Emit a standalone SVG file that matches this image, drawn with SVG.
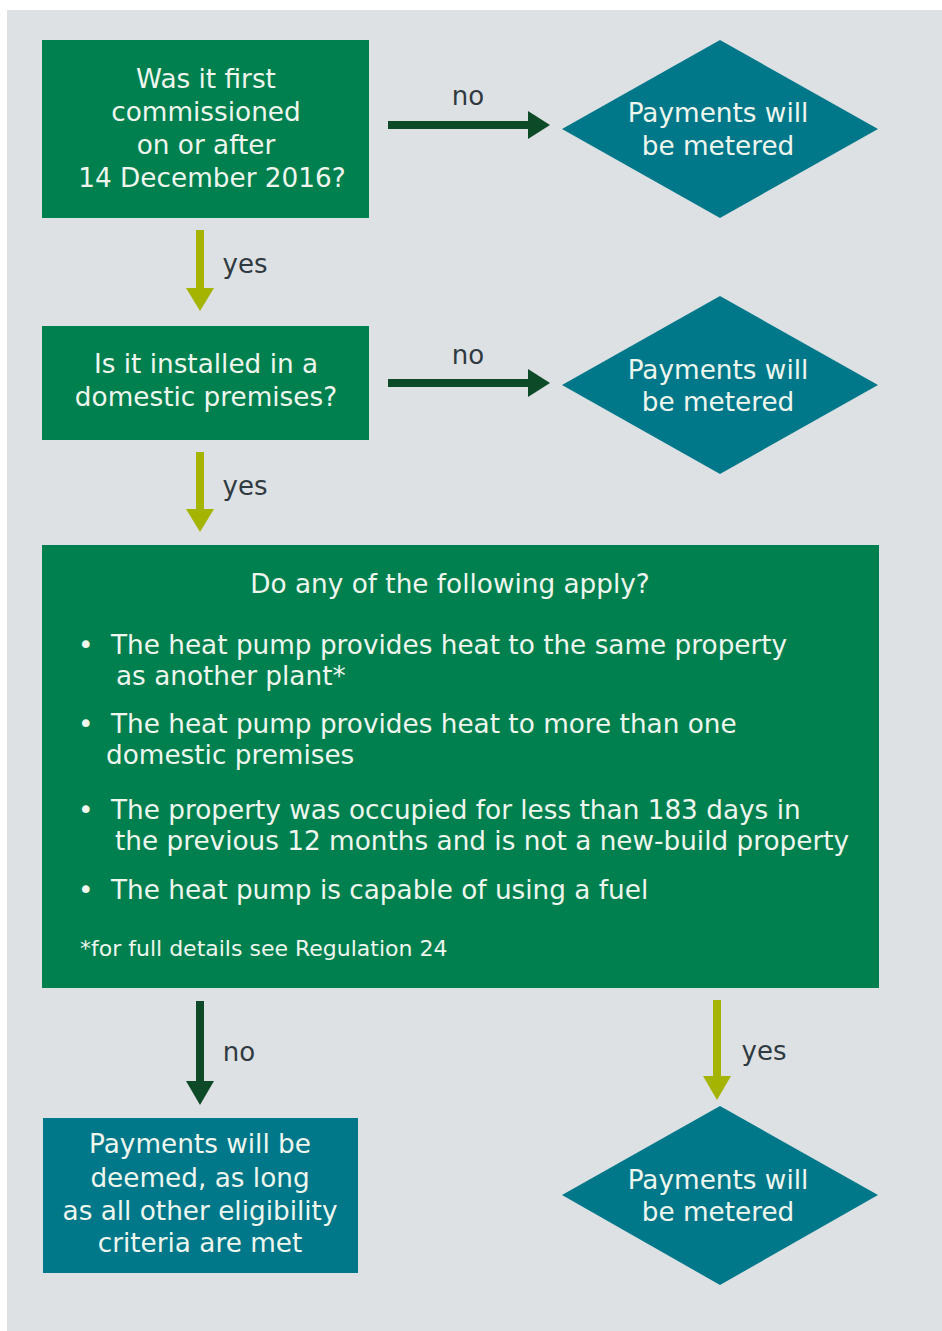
<svg xmlns="http://www.w3.org/2000/svg" width="942" height="1331" viewBox="0 0 942 1331">
<style>
.q{fill:#00804f}
.t{fill:#00788a}
.w{font-family:"DejaVu Sans","Liberation Sans",sans-serif;font-size:26.3px;fill:#eef6ee}
.c{text-anchor:middle}
.l{font-family:"DejaVu Sans","Liberation Sans",sans-serif;font-size:26px;fill:#2f3a40}
.dk{stroke:#0d4a28;stroke-width:8;fill:none}
.ol{stroke:#a4b400;stroke-width:8;fill:none}
.hdk{fill:#0d4a28}
.hol{fill:#a4b400}
</style>
<rect x="0" y="0" width="942" height="1331" fill="#ffffff"/>
<rect x="7" y="10" width="935" height="1321" fill="#dee1e4"/>
<g id="connectors">
<line class="dk" x1="388" y1="125" x2="532" y2="125"/><polygon class="hdk" points="528,111 550,125 528,139"/>
<text class="l c" x="468" y="105">no</text>
<line class="ol" x1="200" y1="230" x2="200" y2="292"/><polygon class="hol" points="186,288 214,288 200,311"/>
<text class="l c" x="245" y="273">yes</text>
<line class="dk" x1="388" y1="383" x2="532" y2="383"/><polygon class="hdk" points="528,369 550,383 528,397"/>
<text class="l c" x="468" y="364">no</text>
<line class="ol" x1="200" y1="452" x2="200" y2="513"/><polygon class="hol" points="186,509 214,509 200,532"/>
<text class="l c" x="245" y="495">yes</text>
<line class="dk" x1="200" y1="1001" x2="200" y2="1085"/><polygon class="hdk" points="186,1081 214,1081 200,1105"/>
<text class="l c" x="239" y="1061">no</text>
<line class="ol" x1="717" y1="1000" x2="717" y2="1080"/><polygon class="hol" points="703,1076 731,1076 717,1100"/>
<text class="l c" x="764" y="1060">yes</text>
</g>
<g id="q1">
<rect class="q" x="42" y="40" width="327" height="178"/>
<text class="w c" x="206" y="88">Was it first</text>
<text class="w c" x="206" y="121">commissioned</text>
<text class="w c" x="206" y="154">on or after</text>
<text class="w c" x="212" y="187">14 December 2016?</text>
</g>
<g id="d1">
<polygon class="t" points="562,129 720,40 878,129 720,218"/>
<text class="w c" x="718" y="122">Payments will</text>
<text class="w c" x="718" y="155">be metered</text>
</g>
<g id="q2">
<rect class="q" x="42" y="326" width="327" height="114"/>
<text class="w c" x="206" y="373">Is it installed in a</text>
<text class="w c" x="206" y="406">domestic premises?</text>
</g>
<g id="d2">
<polygon class="t" points="562,385 720,296 878,385 720,474"/>
<text class="w c" x="718" y="379">Payments will</text>
<text class="w c" x="718" y="411">be metered</text>
</g>
<g id="q3">
<rect class="q" x="42" y="545" width="837" height="443"/>
<text class="w c" x="450" y="593">Do any of the following apply?</text>
<text class="w" x="78" y="654">•</text>
<text class="w" x="111" y="654">The heat pump provides heat to the same property</text>
<text class="w" x="116" y="685">as another plant*</text>
<text class="w" x="78" y="733">•</text>
<text class="w" x="111" y="733">The heat pump provides heat to more than one</text>
<text class="w" x="106" y="764">domestic premises</text>
<text class="w" x="78" y="819">•</text>
<text class="w" x="111" y="819">The property was occupied for less than 183 days in</text>
<text class="w" x="115" y="850">the previous 12 months and is not a new-build property</text>
<text class="w" x="78" y="899">•</text>
<text class="w" x="111" y="899">The heat pump is capable of using a fuel</text>
<text class="w" x="80" y="956" style="font-size:22px">*for full details see Regulation 24</text>
</g>
<g id="r1">
<rect class="t" x="43" y="1118" width="315" height="155"/>
<text class="w c" x="200" y="1153">Payments will be</text>
<text class="w c" x="200" y="1187">deemed, as long</text>
<text class="w c" x="200" y="1220">as all other eligibility</text>
<text class="w c" x="200" y="1252">criteria are met</text>
</g>
<g id="d3">
<polygon class="t" points="562,1195 720,1106 878,1195 720,1285"/>
<text class="w c" x="718" y="1189">Payments will</text>
<text class="w c" x="718" y="1221">be metered</text>
</g>
</svg>
